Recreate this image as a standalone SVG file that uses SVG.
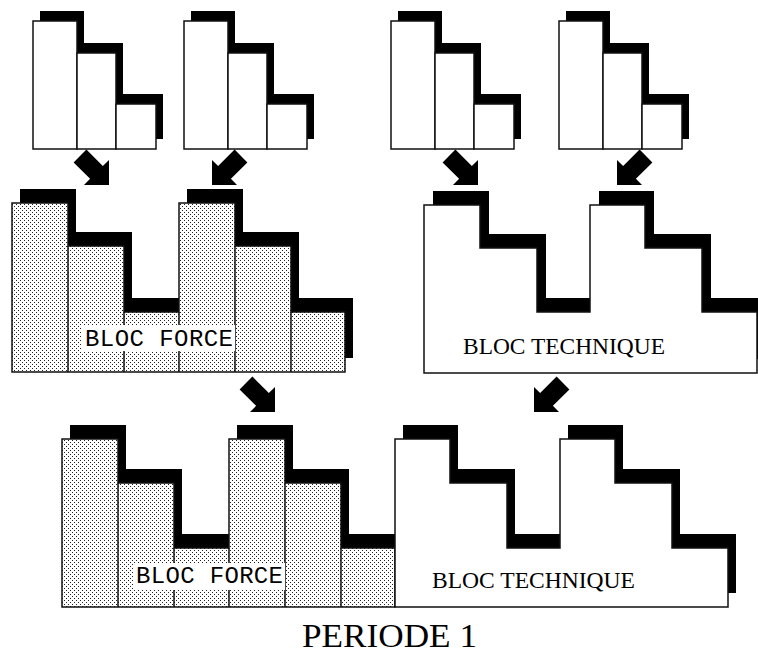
<svg xmlns="http://www.w3.org/2000/svg" xmlns:xlink="http://www.w3.org/1999/xlink" width="758" height="653" viewBox="0 0 758 653">
<style>
.sh{fill:#000;stroke:none}
.wh{fill:#fff;stroke:#111;stroke-width:1.5}
.dt{fill:url(#dots);stroke:#111;stroke-width:1.5}
.dv{stroke:#111;stroke-width:1.5;fill:none}
.arr{fill:#000}
.mono{font-family:"Liberation Mono","DejaVu Sans Mono",monospace;font-size:24px;fill:#000}
.serif{font-family:"Liberation Serif","DejaVu Serif",serif;font-size:22.5px;fill:#000}
.title{font-family:"Liberation Serif","DejaVu Serif",serif;font-size:33px;fill:#000}
</style>
<defs>
<pattern id="dots" width="4" height="4" patternUnits="userSpaceOnUse">
<rect width="4" height="4" fill="#fff"/>
<rect x="0" y="0" width="1" height="1" fill="#222"/>
<rect x="2" y="2" width="1" height="1" fill="#222"/>
</pattern>
<polygon id="arr" points="0,0 0,-25 -6.15,-18.9 -22.6,-35.4 -35.4,-22.6 -18.9,-6.15 -25,0"/>
<g id="chart">
<polygon class="sh" transform="translate(7,-10)" points="0,149 0,21 44,21 44,53 83,53 83,104 123,104 123,149"/>
<rect class="wh" x="0" y="21" width="44" height="128"/>
<rect class="wh" x="44" y="53" width="39" height="96"/>
<rect class="wh" x="83" y="104" width="40" height="45"/>
</g>
</defs>
<rect width="758" height="653" fill="#fff"/>

<g id="chart1" transform="translate(33,0)"><use xlink:href="#chart"/></g>
<g id="chart2" transform="translate(184,0)"><use xlink:href="#chart"/></g>
<g id="chart3" transform="translate(391,0)"><use xlink:href="#chart"/></g>
<g id="chart4" transform="translate(559,0)"><use xlink:href="#chart"/></g>

<g id="bloc-force">
<polygon class="sh" transform="translate(8,-14)" points="12,372 12,203 68,203 68,246 124,246 124,312 179,312 179,203 235,203 235,246 291,246 291,312 345,312 345,372"/>
<polygon class="dt" points="12,372 12,203 68,203 68,246 124,246 124,312 179,312 179,203 235,203 235,246 291,246 291,312 345,312 345,372"/>
<path class="dv" d="M68,246V372M124,312V372M179,312V372M235,246V372M291,312V372"/>
<rect x="82" y="325" width="153" height="26" fill="#fff"/>
<text class="mono" x="85" y="346" textLength="148" lengthAdjust="spacing">BLOC FORCE</text>
</g>

<g id="bloc-technique">
<polygon class="sh" transform="translate(9,-14)" points="424,373 424,205 480,205 480,248 537,248 537,312 590,312 590,205 645,205 645,248 702,248 702,312 757,312 757,373"/>
<polygon class="wh" points="424,373 424,205 480,205 480,248 537,248 537,312 590,312 590,205 645,205 645,248 702,248 702,312 757,312 757,373"/>
<text class="serif" x="463" y="354" textLength="202" lengthAdjust="spacingAndGlyphs">BLOC TECHNIQUE</text>
</g>

<g id="periode-force">
<polygon class="sh" transform="translate(8,-14)" points="62,607 62,439 118,439 118,483 174,483 174,548 229,548 229,439 285,439 285,483 341,483 341,548 395,548 395,607"/>
<polygon class="dt" points="62,607 62,439 118,439 118,483 174,483 174,548 229,548 229,439 285,439 285,483 341,483 341,548 395,548 395,607"/>
<path class="dv" d="M118,483V607M174,548V607M229,548V607M285,483V607M341,548V607"/>
<rect x="133" y="563" width="152" height="27" fill="#fff"/>
<text class="mono" x="136" y="583" textLength="147" lengthAdjust="spacing">BLOC FORCE</text>
</g>

<g id="periode-technique">
<polygon class="sh" transform="translate(8,-14)" points="395,607 395,439 450,439 450,483 507,483 507,548 560,548 560,439 615,439 615,483 672,483 672,548 728,548 728,607"/>
<polygon class="wh" points="395,607 395,439 450,439 450,483 507,483 507,548 560,548 560,439 615,439 615,483 672,483 672,548 728,548 728,607"/>
<text class="serif" x="432" y="588" textLength="203" lengthAdjust="spacingAndGlyphs">BLOC TECHNIQUE</text>
</g>

<g id="title">
<text class="title" x="302" y="647" textLength="175" lengthAdjust="spacingAndGlyphs">PERIODE 1</text>
</g>

<g id="connectors" class="arr">
<use xlink:href="#arr" transform="translate(109,185)"/>
<use xlink:href="#arr" transform="translate(212,185) scale(-1,1)"/>
<use xlink:href="#arr" transform="translate(478,185)"/>
<use xlink:href="#arr" transform="translate(617,185) scale(-1,1)"/>
<use xlink:href="#arr" transform="translate(275,412)"/>
<use xlink:href="#arr" transform="translate(534,412) scale(-1,1)"/>
</g>
</svg>
